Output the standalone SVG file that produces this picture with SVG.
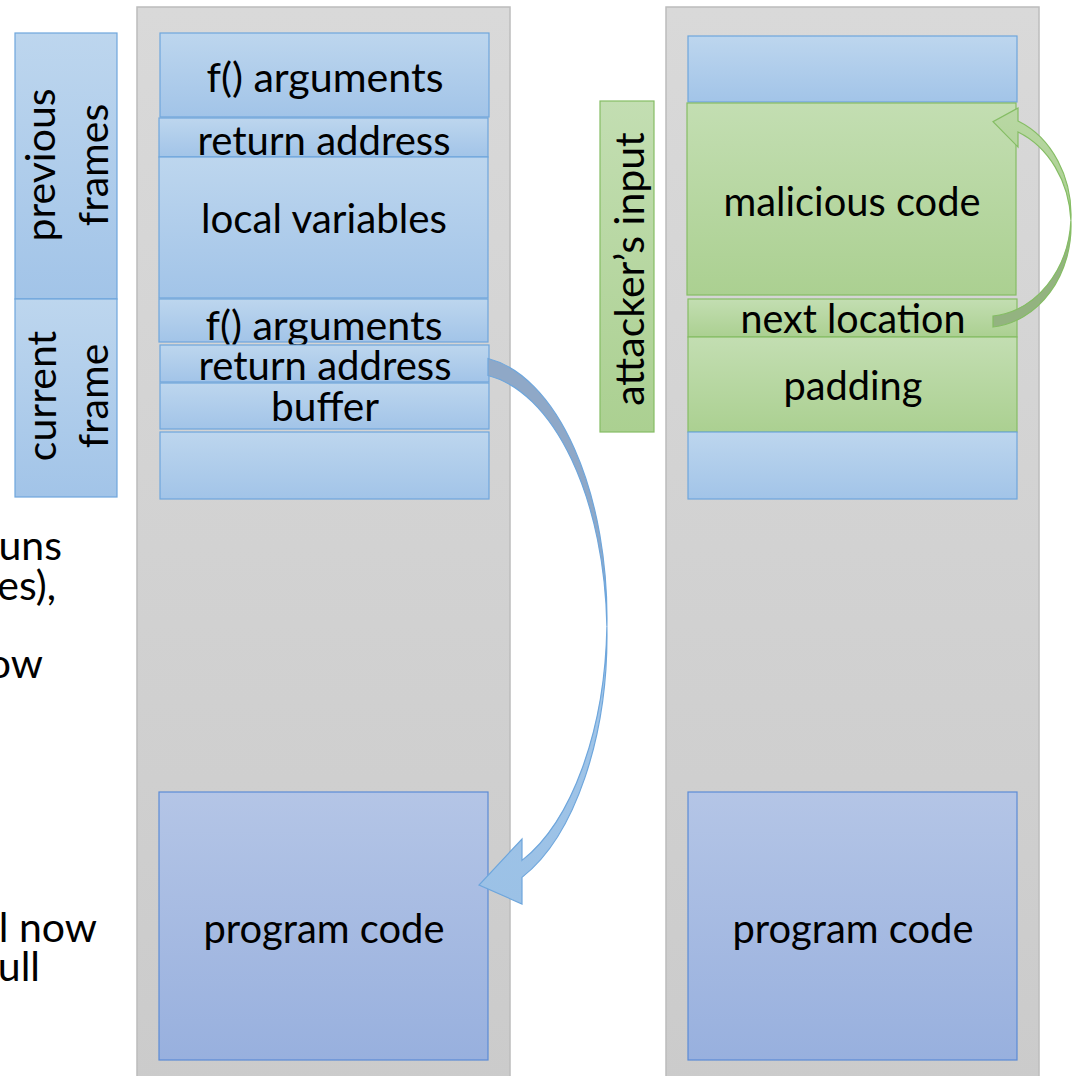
<svg xmlns="http://www.w3.org/2000/svg" width="1075" height="1076" viewBox="0 0 1075 1076">
  <defs>
    <linearGradient id="gPanel" x1="0" y1="0" x2="0" y2="1">
      <stop offset="0" stop-color="#d9d9d9"/>
      <stop offset="1" stop-color="#cbcbcb"/>
    </linearGradient>
    <linearGradient id="gBlue" x1="0" y1="0" x2="0" y2="1">
      <stop offset="0" stop-color="#bdd6ee"/>
      <stop offset="1" stop-color="#a2c4e8"/>
    </linearGradient>
    <linearGradient id="gGreen" x1="0" y1="0" x2="0" y2="1">
      <stop offset="0" stop-color="#c3deb2"/>
      <stop offset="1" stop-color="#abd091"/>
    </linearGradient>
    <linearGradient id="gCode" x1="0" y1="0" x2="0" y2="1">
      <stop offset="0" stop-color="#b4c5e6"/>
      <stop offset="1" stop-color="#98b0de"/>
    </linearGradient>
    <linearGradient id="gArrowBlue" x1="0" y1="0" x2="0" y2="1">
      <stop offset="0" stop-color="#a3c6e8"/>
      <stop offset="1" stop-color="#9bc1e6"/>
    </linearGradient>
    <linearGradient id="gArrowGreen" x1="0" y1="0" x2="0" y2="1">
      <stop offset="0" stop-color="#b9d8a4"/>
      <stop offset="1" stop-color="#aacf90"/>
    </linearGradient>
  </defs>
  <style>
    .panel { fill: url(#gPanel); stroke: #bcbcbc; stroke-width: 1.5; }
    .blue { fill: url(#gBlue); stroke: #6ea6dc; stroke-width: 1.2; }
    .green { fill: url(#gGreen); stroke: #85bd64; stroke-width: 1.2; }
    .code { fill: url(#gCode); stroke: #5b8bd6; stroke-width: 1.2; }
    text { font-family: Lato, "Liberation Sans", sans-serif; font-size: 41px; fill: #000; }
    .c { text-anchor: middle; }
    .e { text-anchor: end; }
  </style>

  <rect width="1075" height="1076" fill="#ffffff"/>

  <!-- fragments of a paragraph that runs off the left edge -->
  <g id="side-notes">
    <text class="e" x="62" y="560">uns</text>
    <text class="e" x="56" y="600">es),</text>
    <text class="e" x="43" y="678">ow</text>
    <text class="e" x="97" y="942">l now</text>
    <text class="e" x="40" y="981">ull</text>
  </g>

  <!-- frame labels -->
  <g id="label-previous-frames">
    <rect class="blue" x="15" y="33" width="102" height="266"/>
    <text class="c" transform="translate(55,165) rotate(-90)">previous</text>
    <text class="c" transform="translate(108,165) rotate(-90)">frames</text>
  </g>
  <g id="label-current-frame">
    <rect class="blue" x="15" y="299" width="102" height="198"/>
    <text class="c" transform="translate(56,396) rotate(-90)">current</text>
    <text class="c" transform="translate(108,396) rotate(-90)">frame</text>
  </g>

  <!-- normal stack -->
  <g id="stack-normal">
    <rect class="panel" x="137" y="7" width="373" height="1080"/>
  </g>
  <g id="n-args-prev">
    <rect class="blue" x="160" y="33" width="329" height="84"/>
    <text class="c" x="325" y="92" textLength="237" lengthAdjust="spacingAndGlyphs">f() arguments</text>
  </g>
  <g id="n-ret-prev">
    <rect class="blue" x="159" y="118" width="329" height="39"/>
    <text class="c" x="324" y="155" textLength="253" lengthAdjust="spacingAndGlyphs">return address</text>
  </g>
  <g id="n-locals">
    <rect class="blue" x="159" y="157" width="329" height="141"/>
    <text class="c" x="324" y="233" textLength="246" lengthAdjust="spacingAndGlyphs">local variables</text>
  </g>
  <g id="n-args-cur">
    <rect class="blue" x="159" y="299" width="329" height="43"/>
    <text class="c" x="324" y="340" textLength="237" lengthAdjust="spacingAndGlyphs">f() arguments</text>
  </g>
  <g id="n-ret-cur">
    <rect class="blue" x="160" y="345" width="329" height="37"/>
    <text class="c" x="325" y="380" textLength="253" lengthAdjust="spacingAndGlyphs">return address</text>
  </g>
  <g id="n-buffer">
    <rect class="blue" x="160" y="383" width="329" height="46"/>
    <text class="c" x="325" y="421" textLength="108" lengthAdjust="spacingAndGlyphs">buffer</text>
  </g>
  <g id="n-free">
    <rect class="blue" x="160" y="432" width="329" height="67"/>
  </g>
  <g id="n-code">
    <rect class="code" x="159" y="792" width="329" height="268"/>
    <text class="c" x="324" y="943" textLength="241" lengthAdjust="spacingAndGlyphs">program code</text>
  </g>

  <!-- attacked stack -->
  <g id="stack-attacked">
    <rect class="panel" x="666" y="7" width="373" height="1080"/>
  </g>
  <g id="label-attackers-input">
    <rect class="green" x="600" y="101" width="54" height="331"/>
    <text class="c" transform="translate(644,269) rotate(-90)">attacker’s input</text>
  </g>
  <g id="a-top">
    <rect class="blue" x="688" y="36" width="329" height="66"/>
  </g>
  <g id="a-malicious">
    <rect class="green" x="687" y="103" width="329" height="192"/>
    <text class="c" x="852" y="216" textLength="257" lengthAdjust="spacingAndGlyphs">malicious code</text>
  </g>
  <g id="a-next">
    <rect class="green" x="688" y="299" width="329" height="38"/>
    <text class="c" x="853" y="333" textLength="225" lengthAdjust="spacingAndGlyphs">next location</text>
  </g>
  <g id="a-padding">
    <rect class="green" x="688" y="337" width="329" height="95"/>
    <text class="c" x="853" y="400" textLength="139" lengthAdjust="spacingAndGlyphs">padding</text>
  </g>
  <g id="a-free">
    <rect class="blue" x="688" y="432" width="329" height="67"/>
  </g>
  <g id="a-code">
    <rect class="code" x="688" y="792" width="329" height="268"/>
    <text class="c" x="853" y="943" textLength="241" lengthAdjust="spacingAndGlyphs">program code</text>
  </g>

  <!-- curved ribbon arrows: darker back face, lighter front face with head -->
  <g id="connectors" stroke-linejoin="miter">
    <g id="ret-to-code">
      <path d="M488,358.5 A137,262 0 0,1 606.9,626.5 A137,262 0 0,0 488,375.5 Z" fill="#8fa8c7" stroke="#6ea6dc" stroke-width="1.2"/>
      <path d="M606.9,626.5 A137,262 0 0,1 522,877.4 L522,904 L479,885 L522,839 L522,860.4 A137,262 0 0,0 606.9,626.5 Z" fill="url(#gArrowBlue)" stroke="#6ea6dc" stroke-width="1.2"/>
    </g>
    <g id="next-to-malicious">
      <path d="M993,327 A86,101.6 0 0,0 1070.9,220.3 A86,101.6 0 0,1 993,316 Z" fill="#93b380" stroke="#85bd64" stroke-width="1.2"/>
      <path d="M1070.9,220.3 A86,101.6 0 0,0 1018,121 L1018,108 L993,121.7 L1018,147 L1018,132 A86,101.6 0 0,1 1070.9,220.3 Z" fill="url(#gArrowGreen)" stroke="#85bd64" stroke-width="1.2"/>
    </g>
  </g>
</svg>
